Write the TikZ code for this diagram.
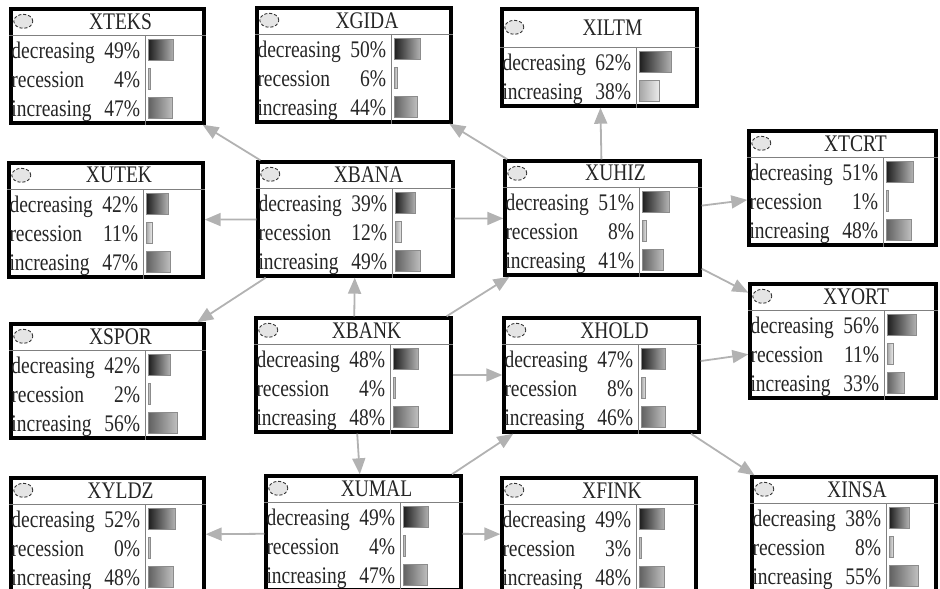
\documentclass[tikz,border=0pt]{standalone}
\usepackage{fontspec}
\setmainfont{Liberation Serif}
\usetikzlibrary{arrows.meta}

\newcommand{\statefont}{\fontsize{19.5}{22}\selectfont}
\newcommand{\tall}[1]{\scalebox{1}[1.22]{#1}}
% bar colours by state index
\colorlet{barl1}{black!88}\colorlet{barr1}{black!30}
\colorlet{barl2}{black!35}\colorlet{barr2}{black!8}
\colorlet{barl3}{black!62}\colorlet{barr3}{black!25}

\tikzset{
  netbox/.style={draw=black, line width=3.4pt, rectangle, fill=white, inner sep=0pt, outer sep=1.7pt},
  statetext/.style={font=\statefont, text=black!85, inner sep=0pt},
  link/.style={draw=black!30, line width=1.8pt, -{Triangle[length=16pt,width=13pt]}},
  thinrule/.style={draw=black!50, line width=0.8pt},
}

% #1 node, #2 title, #3 title row height, #4 pct/state list
\newcommand{\netstates}[4]{%
  \pgfmathsetmacro\titlemid{#3/2}
  \draw[thinrule] ([yshift=-#3pt]#1.north west) -- ([yshift=-#3pt]#1.north east);
  \draw[thinrule] ([xshift=136pt,yshift=-#3pt]#1.north west) -- ([xshift=136pt]#1.south west);
  \draw[black!80, densely dashed, fill=black!10, line width=0.9pt] ([xshift=14pt,yshift=-\titlemid pt]#1.north west) ellipse (9.5pt and 7pt);
  \node[statetext] (#1-title) at ([xshift=13pt,yshift=-\titlemid pt]#1.north) {\tall{#2}};
  \foreach \pct/\lab [count=\i] in {#4} {
    \pgfmathsetmacro\rowy{#3+15+29*(\i-1)}
    \pgfmathsetmacro\basey{\rowy+8}
    \pgfmathsetmacro\bartop{\rowy-11}
    \pgfmathsetmacro\barbot{\rowy+10}
    \pgfmathsetmacro\barend{139+max(2,\pct*0.52)}
    \node[statetext, anchor=base west] at ([xshift=2pt,yshift=-\basey pt]#1.north west) {\tall{\lab}};
    \node[statetext, anchor=base east] at ([xshift=131pt,yshift=-\basey pt]#1.north west) {\tall{\pct\%}};
    \path[draw=black!45, line width=0.6pt, left color=barl\i, right color=barr\i]
      ([xshift=139pt,yshift=-\bartop pt]#1.north west) rectangle ([xshift=\barend pt,yshift=-\barbot pt]#1.north west);
  }
}

\begin{document}
\begin{tikzpicture}[x=1pt,y=-1pt]
	\useasboundingbox (0,0) rectangle (940,589);
	\node[netbox, minimum width=193pt, minimum height=114pt] (xteks) at (107.5,66) {};
	\node[netbox, minimum width=194pt, minimum height=114pt] (xgida) at (354,65) {};
	\node[netbox, minimum width=195pt, minimum height=97pt] (xiltm) at (599.5,57.5) {};
	\node[netbox, minimum width=194pt, minimum height=114pt] (xutek) at (106,220) {};
	\node[netbox, minimum width=195pt, minimum height=114pt] (xbana) at (355.5,219) {};
	\node[netbox, minimum width=195pt, minimum height=114pt] (xuhiz) at (602.5,218) {};
	\node[netbox, minimum width=187pt, minimum height=114pt] (xtcrt) at (842.5,188) {};
	\node[netbox, minimum width=193pt, minimum height=114pt] (xspor) at (107.5,381) {};
	\node[netbox, minimum width=195pt, minimum height=114pt] (xbank) at (353.5,375) {};
	\node[netbox, minimum width=195pt, minimum height=114pt] (xhold) at (601.5,375) {};
	\node[netbox, minimum width=186pt, minimum height=114pt] (xyort) at (843,341) {};
	\node[netbox, minimum width=193pt, minimum height=114pt] (xyldz) at (107.5,535) {};
	\node[netbox, minimum width=195pt, minimum height=114pt] (xumal) at (363.5,533) {};
	\node[netbox, minimum width=194pt, minimum height=114pt] (xfink) at (599,535) {};
	\node[netbox, minimum width=184pt, minimum height=114pt] (xinsa) at (844,534) {};
	\netstates{xteks}{XTEKS}{28}{49/decreasing,4/recession,47/increasing}
	\netstates{xgida}{XGIDA}{28}{50/decreasing,6/recession,44/increasing}
	\netstates{xiltm}{XILTM}{40}{62/decreasing,38/increasing}
	\netstates{xutek}{XUTEK}{28}{42/decreasing,11/recession,47/increasing}
	\netstates{xbana}{XBANA}{28}{39/decreasing,12/recession,49/increasing}
	\netstates{xuhiz}{XUHIZ}{28}{51/decreasing,8/recession,41/increasing}
	\netstates{xtcrt}{XTCRT}{28}{51/decreasing,1/recession,48/increasing}
	\netstates{xspor}{XSPOR}{28}{42/decreasing,2/recession,56/increasing}
	\netstates{xbank}{XBANK}{28}{48/decreasing,4/recession,48/increasing}
	\netstates{xhold}{XHOLD}{28}{47/decreasing,8/recession,46/increasing}
	\netstates{xyort}{XYORT}{28}{56/decreasing,11/recession,33/increasing}
	\netstates{xyldz}{XYLDZ}{28}{52/decreasing,0/recession,48/increasing}
	\netstates{xumal}{XUMAL}{28}{49/decreasing,4/recession,47/increasing}
	\netstates{xfink}{XFINK}{28}{49/decreasing,3/recession,48/increasing}
	\netstates{xinsa}{XINSA}{28}{38/decreasing,8/recession,55/increasing}
	\path (xbana) edge[link] (xteks);
	\path (xuhiz) edge[link] (xgida);
	\path (xuhiz) edge[link] (xiltm);
	\path (xbana) edge[link] (xutek);
	\path (xbana) edge[link] (xuhiz);
	\path (xuhiz) edge[link] (xtcrt);
	\path (xuhiz) edge[link] (xyort);
	\path (xbana) edge[link] (xspor);
	\path (xbank) edge[link] (xbana);
	\path (xbank) edge[link] (xuhiz);
	\path (xbank) edge[link] (xhold);
	\path (xhold) edge[link] (xyort);
	\path (xbank) edge[link] (xumal);
	\path (xumal) edge[link] (xyldz);
	\path (xumal) edge[link] (xfink);
	\path (xumal) edge[link] (xhold);
	\path (xhold) edge[link] (xinsa);
\end{tikzpicture}
\end{document}
